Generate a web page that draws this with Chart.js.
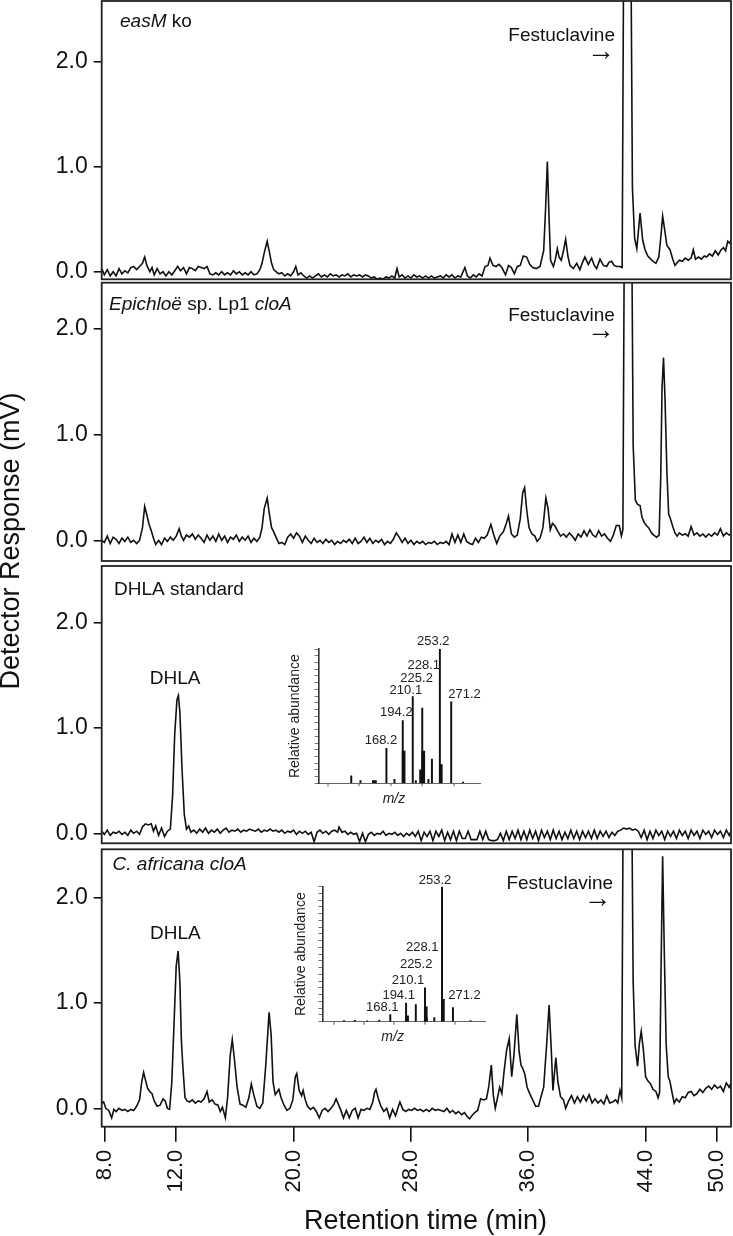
<!DOCTYPE html>
<html>
<head>
<meta charset="utf-8">
<script src="https://cdn.jsdelivr.net/npm/chart.js@4.4.1/dist/chart.umd.min.js"></script>
<style>
  body { margin: 0; background: #fff; }
  #wrap { position: relative; width: 733px; height: 1236px; overflow: hidden; background: #fff;
          font-family: "Liberation Sans", Arial, sans-serif; color: #111; }
  canvas { position: absolute; }
  .axt { position: absolute; font-size: 27px; line-height: 30px; text-align: center; white-space: nowrap; }
  #ytitle { left: -150px; top: 525.5px; width: 320px; transform: rotate(-90deg); }
  #xtitle { left: 225.5px; top: 1205px; width: 400px; }
</style>
</head>
<body>
<div id="wrap">
  <canvas id="p1" width="733" height="281" style="left:0;top:0"></canvas>
  <canvas id="p2" width="733" height="282" style="left:0;top:281px"></canvas>
  <canvas id="p3" width="733" height="282" style="left:0;top:563px"></canvas>
  <canvas id="p4" width="733" height="391" style="left:0;top:845px"></canvas>
  <canvas id="ms3" width="210" height="180" style="left:280px;top:630px"></canvas>
  <canvas id="ms4" width="210" height="190" style="left:285px;top:865px"></canvas>
  <div class="axt" id="ytitle">Detector Response (mV)</div>
  <div class="axt" id="xtitle">Retention time (min)</div>
</div>
<script>
// retention axis: tick positions (min) and the labels printed under them
var retentionTicks = [7.15, 12, 20, 28, 36, 44, 48.86];
var retentionLabels = ["8.0", "12.0", "20.0", "28.0", "36.0", "44.0", "50.0"];
var responseTicks = [0, 1, 2];

// chromatograms, [retention time (min), response (mV)]
var easmKo = [
  [6.92,0.03],[7.1,-0.03],[7.3,0.02],[7.5,-0.04],[7.7,0.00],[7.9,-0.04],[8.1,0.03],[8.3,-0.02],[8.5,0.01],[8.7,-0.01],
  [8.9,0.04],[9.1,0.05],[9.3,0.02],[9.5,0.05],[9.7,0.08],[9.85,0.14],[10.0,0.06],[10.2,0.00],[10.35,0.04],[10.5,-0.03],
  [10.7,0.03],[10.9,-0.02],[11.1,0.00],[11.3,-0.04],[11.5,0.00],[11.7,-0.03],[11.9,0.01],[12.1,0.05],[12.3,0.01],[12.5,0.04],
  [12.7,-0.02],[12.9,0.04],[13.1,0.03],[13.3,0.01],[13.5,0.05],[13.7,0.04],[13.9,0.03],[14.1,0.05],[14.3,-0.02],[14.5,-0.03],
  [14.7,-0.01],[14.9,-0.03],[15.1,0.00],[15.3,-0.03],[15.5,-0.01],[15.7,-0.03],[15.9,0.01],[16.1,-0.02],[16.3,0.00],[16.5,-0.03],
  [16.7,-0.01],[16.9,-0.03],[17.1,0.00],[17.3,-0.03],[17.5,-0.02],[17.7,0.02],[17.85,0.08],[18.0,0.18],[18.2,0.29],[18.35,0.19],
  [18.5,0.08],[18.65,0.02],[18.8,0.00],[19.0,-0.02],[19.2,-0.01],[19.4,-0.04],[19.6,-0.02],[19.8,-0.04],[20.0,0.00],[20.15,0.05],
  [20.3,-0.03],[20.5,-0.01],[20.7,-0.04],[20.9,-0.06],[21.1,-0.04],[21.3,-0.06],[21.5,-0.04],[21.7,-0.02],[21.9,-0.05],[22.1,-0.03],
  [22.3,-0.05],[22.5,-0.02],[22.7,-0.04],[22.9,-0.03],[23.1,-0.05],[23.3,-0.03],[23.5,-0.04],[23.7,-0.02],[23.9,-0.05],[24.1,-0.03],
  [24.3,-0.04],[24.5,-0.03],[24.7,-0.05],[24.9,-0.03],[25.1,-0.04],[25.3,-0.06],[25.5,-0.05],[25.7,-0.07],[25.9,-0.06],[26.1,-0.07],
  [26.3,-0.05],[26.5,-0.06],[26.7,-0.04],[26.9,-0.06],[27.05,0.03],[27.2,-0.05],[27.4,-0.03],[27.6,-0.06],[27.8,-0.04],[28.0,-0.06],
  [28.2,-0.03],[28.4,-0.05],[28.6,-0.04],[28.8,-0.06],[29.0,-0.04],[29.2,-0.06],[29.4,-0.04],[29.6,-0.06],[29.8,-0.05],[30.0,-0.04],
  [30.2,-0.06],[30.4,-0.03],[30.6,-0.05],[30.8,-0.03],[31.0,-0.06],[31.2,-0.04],[31.4,-0.05],[31.68,0.04],[31.85,-0.04],[32.05,-0.06],
  [32.25,-0.03],[32.45,-0.05],[32.65,-0.02],[32.85,-0.04],[33.05,0.05],[33.25,0.06],[33.39,0.13],[33.6,0.06],[33.8,0.05],[34.0,0.07],
  [34.2,0.04],[34.45,-0.03],[34.65,0.06],[34.85,0.04],[35.05,-0.02],[35.25,0.05],[35.45,0.06],[35.66,0.15],[35.89,0.14],[36.1,0.07],
  [36.3,0.04],[36.55,0.03],[36.8,0.05],[37.05,0.20],[37.18,0.60],[37.3,1.05],[37.42,0.50],[37.52,0.11],[37.71,0.05],[37.85,0.12],
  [37.98,0.22],[38.1,0.14],[38.25,0.11],[38.4,0.20],[38.55,0.31],[38.7,0.15],[38.84,0.06],[39.07,0.03],[39.3,0.08],[39.52,0.02],
  [39.7,0.09],[39.86,0.14],[40.09,0.07],[40.32,0.13],[40.5,0.06],[40.66,0.03],[40.89,0.12],[41.12,0.06],[41.34,0.05],[41.5,0.09],
  [41.68,0.10],[41.85,0.06],[42.02,0.05],[42.25,0.05],[42.4,0.04],[42.5,3.0],[42.75,7.0],[43.0,3.0],[43.1,0.8],[43.25,0.32],
  [43.4,0.22],[43.62,0.56],[43.8,0.30],[43.96,0.21],[44.15,0.15],[44.35,0.12],[44.5,0.10],[44.7,0.08],[44.9,0.14],[45.05,0.35],
  [45.16,0.53],[45.3,0.40],[45.45,0.25],[45.66,0.21],[45.85,0.12],[46.0,0.06],[46.12,0.08],[46.3,0.11],[46.5,0.10],[46.7,0.13],
  [46.9,0.11],[47.1,0.13],[47.25,0.21],[47.4,0.12],[47.6,0.14],[47.8,0.12],[48.0,0.15],[48.16,0.14],[48.35,0.17],[48.55,0.15],
  [48.75,0.20],[48.95,0.16],[49.15,0.21],[49.3,0.23],[49.45,0.20],[49.6,0.29],[49.75,0.27],[49.82,0.30]
];

var epichloeCloA = [
  [6.92,0.00],[7.1,-0.02],[7.3,0.04],[7.5,-0.03],[7.7,0.03],[7.9,0.01],[8.1,-0.03],[8.3,0.02],[8.5,-0.01],[8.7,0.03],
  [8.9,-0.02],[9.1,0.00],[9.3,-0.03],[9.5,0.00],[9.7,0.12],[9.85,0.32],[10.0,0.24],[10.15,0.15],[10.3,0.09],[10.45,0.02],
  [10.6,-0.04],[10.8,0.00],[11.0,-0.04],[11.2,0.02],[11.4,-0.01],[11.6,0.03],[11.8,0.00],[12.0,0.04],[12.2,0.11],[12.35,0.04],
  [12.5,0.00],[12.7,0.05],[12.9,0.03],[13.1,0.06],[13.3,0.01],[13.5,0.05],[13.7,0.02],[13.9,-0.02],[14.1,0.05],[14.3,0.00],
  [14.5,0.04],[14.7,-0.01],[14.9,0.06],[15.1,0.00],[15.3,0.04],[15.5,-0.02],[15.7,0.03],[15.9,0.01],[16.1,0.05],[16.3,-0.01],
  [16.5,0.03],[16.7,0.00],[16.9,0.04],[17.1,-0.02],[17.3,0.02],[17.5,-0.01],[17.7,0.03],[17.85,0.12],[18.0,0.30],[18.2,0.40],
  [18.35,0.25],[18.5,0.12],[18.65,0.08],[18.8,0.03],[19.0,-0.03],[19.2,-0.02],[19.4,-0.04],[19.6,0.03],[19.8,0.06],[20.0,0.02],
  [20.2,0.07],[20.4,0.04],[20.6,-0.02],[20.8,0.04],[21.0,0.00],[21.2,-0.03],[21.4,0.02],[21.6,-0.02],[21.8,0.00],[22.0,-0.03],
  [22.2,0.01],[22.4,-0.02],[22.6,0.00],[22.8,-0.04],[23.0,-0.01],[23.2,-0.03],[23.4,0.00],[23.6,-0.02],[23.8,0.01],[24.0,-0.03],
  [24.2,0.02],[24.4,-0.03],[24.6,-0.01],[24.8,0.03],[25.0,-0.02],[25.2,0.02],[25.4,-0.03],[25.6,0.00],[25.8,-0.02],[26.0,0.01],
  [26.2,-0.04],[26.4,-0.01],[26.6,-0.03],[26.8,0.01],[27.0,0.07],[27.2,0.03],[27.4,-0.02],[27.6,0.02],[27.8,-0.03],[28.0,0.00],
  [28.2,-0.04],[28.4,-0.01],[28.6,-0.03],[28.8,-0.01],[29.0,-0.04],[29.2,-0.02],[29.4,-0.03],[29.6,-0.01],[29.8,-0.04],[30.0,-0.02],
  [30.2,-0.03],[30.4,-0.01],[30.6,-0.04],[30.8,0.06],[31.0,-0.02],[31.2,0.05],[31.4,-0.02],[31.6,0.06],[31.8,-0.01],[32.0,-0.03],
  [32.2,-0.04],[32.4,0.02],[32.6,-0.02],[32.8,0.03],[33.0,0.02],[33.2,0.05],[33.45,0.15],[33.65,0.05],[33.85,-0.03],[34.05,0.04],
  [34.3,0.08],[34.5,0.16],[34.65,0.23],[34.85,0.06],[35.05,0.03],[35.25,0.05],[35.45,0.20],[35.62,0.45],[35.75,0.50],[35.9,0.28],
  [36.05,0.12],[36.25,0.06],[36.45,0.04],[36.6,-0.01],[36.8,0.02],[37.0,0.12],[37.2,0.40],[37.35,0.30],[37.5,0.10],[37.65,0.16],
  [37.8,0.14],[38.0,0.09],[38.2,0.04],[38.4,0.06],[38.6,0.03],[38.8,0.07],[39.0,0.04],[39.2,0.00],[39.4,0.06],[39.6,0.03],
  [39.8,0.09],[40.0,0.04],[40.2,0.10],[40.4,0.05],[40.6,0.03],[40.8,0.09],[41.0,0.04],[41.2,0.06],[41.4,0.02],[41.6,-0.01],
  [41.8,0.05],[42.0,0.14],[42.2,0.14],[42.35,0.04],[42.45,0.10],[42.55,3.0],[42.8,7.0],[43.05,3.0],[43.15,0.9],[43.3,0.38],
  [43.45,0.34],[43.62,0.33],[43.75,0.22],[43.9,0.17],[44.05,0.14],[44.2,0.12],[44.4,0.07],[44.55,0.05],[44.75,0.03],[44.92,0.05],
  [45.03,0.6],[45.12,1.45],[45.22,1.73],[45.32,1.35],[45.45,0.65],[45.57,0.25],[45.7,0.20],[45.85,0.13],[46.0,0.07],[46.15,0.04],
  [46.3,0.07],[46.5,0.05],[46.7,0.06],[46.9,0.04],[47.1,0.13],[47.3,0.05],[47.5,0.07],[47.7,0.04],[47.9,0.06],[48.1,0.03],
  [48.3,0.06],[48.5,0.04],[48.7,0.07],[48.9,0.05],[49.1,0.11],[49.3,0.04],[49.5,0.07],[49.7,0.05],[49.82,0.06]
];

var dhlaStandard = [
  [6.92,0.02],[7.1,-0.01],[7.3,0.03],[7.5,-0.02],[7.7,0.01],[7.9,0.00],[8.1,0.02],[8.3,-0.01],[8.5,0.01],[8.7,-0.02],
  [8.9,0.03],[9.1,0.00],[9.3,0.02],[9.5,-0.01],[9.7,0.06],[9.9,0.09],[10.1,0.08],[10.3,0.09],[10.45,0.02],[10.6,0.07],
  [10.8,-0.02],[11.0,0.05],[11.2,-0.03],[11.4,0.02],[11.6,0.04],[11.75,0.35],[11.9,0.95],[12.05,1.27],[12.15,1.31],[12.25,1.15],
  [12.4,0.60],[12.55,0.18],[12.7,0.04],[12.85,0.07],[13.0,0.01],[13.2,0.03],[13.4,0.00],[13.6,0.04],[13.8,0.01],[14.0,0.05],
  [14.2,0.00],[14.4,0.03],[14.6,0.01],[14.8,0.04],[15.0,0.00],[15.2,0.03],[15.4,0.05],[15.6,0.01],[15.8,0.03],[16.0,0.02],
  [16.2,0.04],[16.4,0.01],[16.6,0.03],[16.8,0.02],[17.0,0.04],[17.2,0.03],[17.4,0.02],[17.6,0.04],[17.8,0.01],[18.0,0.03],
  [18.2,0.02],[18.4,0.04],[18.6,0.02],[18.8,0.03],[19.0,0.01],[19.2,0.03],[19.4,0.00],[19.6,0.02],[19.8,0.01],[20.0,0.03],
  [20.2,-0.01],[20.4,0.02],[20.6,0.00],[20.8,0.02],[21.0,-0.01],[21.2,0.01],[21.4,-0.08],[21.6,0.01],[21.8,0.03],[22.0,0.00],
  [22.2,0.02],[22.4,-0.01],[22.6,0.02],[22.8,0.03],[23.0,0.01],[23.1,0.06],[23.3,0.01],[23.5,0.02],[23.7,-0.01],[23.9,0.01],
  [24.1,-0.01],[24.3,0.00],[24.5,-0.08],[24.7,0.00],[24.9,-0.08],[25.1,-0.01],[25.3,0.01],[25.5,-0.02],[25.7,0.00],[25.9,-0.01],
  [26.1,0.02],[26.3,-0.02],[26.5,0.00],[26.7,-0.01],[26.9,0.01],[27.1,-0.02],[27.3,0.00],[27.5,-0.03],[27.7,0.00],[27.9,-0.02],
  [28.1,0.01],[28.3,-0.03],[28.5,0.02],[28.7,-0.07],[28.9,0.01],[29.1,-0.03],[29.3,0.02],[29.5,-0.07],[29.7,0.02],[29.9,-0.03],
  [30.1,0.03],[30.3,-0.07],[30.5,0.01],[30.7,-0.06],[30.9,0.02],[31.1,-0.07],[31.3,0.02],[31.5,-0.05],[31.7,-0.05],[31.9,0.02],
  [32.1,-0.06],[32.3,-0.06],[32.5,-0.06],[32.7,0.02],[32.9,-0.06],[33.1,0.02],[33.3,-0.06],[33.5,-0.07],[33.7,-0.07],[33.9,-0.06],
  [34.1,0.00],[34.3,-0.07],[34.5,0.02],[34.7,-0.06],[34.9,0.02],[35.1,-0.05],[35.3,0.03],[35.5,-0.06],[35.7,0.02],[35.9,-0.06],
  [36.1,0.03],[36.3,-0.05],[36.5,0.02],[36.7,-0.07],[36.9,0.03],[37.1,-0.04],[37.3,0.02],[37.5,-0.06],[37.7,0.03],[37.9,-0.05],
  [38.1,0.02],[38.3,-0.06],[38.5,0.01],[38.7,-0.05],[38.9,0.03],[39.1,-0.05],[39.3,0.02],[39.5,-0.06],[39.7,0.02],[39.9,-0.04],
  [40.1,0.02],[40.3,-0.05],[40.5,0.03],[40.7,-0.05],[40.9,0.02],[41.1,-0.03],[41.3,0.02],[41.5,-0.04],[41.7,0.01],[41.9,-0.02],
  [42.1,0.02],[42.3,0.03],[42.5,0.05],[42.7,0.04],[42.9,0.05],[43.1,0.03],[43.3,0.04],[43.5,0.02],[43.7,-0.04],[43.9,0.03],
  [44.1,-0.06],[44.3,0.02],[44.5,-0.05],[44.7,0.03],[44.9,-0.02],[45.1,0.02],[45.3,-0.06],[45.5,0.02],[45.7,-0.03],[45.9,0.02],
  [46.1,-0.05],[46.3,0.03],[46.5,-0.02],[46.7,0.02],[46.9,-0.05],[47.1,0.03],[47.3,-0.02],[47.5,0.02],[47.7,-0.05],[47.9,0.03],
  [48.1,-0.01],[48.3,0.02],[48.5,-0.04],[48.7,0.03],[48.9,-0.01],[49.1,0.02],[49.3,-0.04],[49.5,0.03],[49.7,-0.02],[49.82,0.02]
];

var africanaCloA = [
  [6.92,0.05],[7.05,0.06],[7.2,0.00],[7.4,-0.02],[7.6,-0.09],[7.75,-0.01],[7.9,-0.03],[8.1,0.00],[8.3,-0.02],[8.5,-0.01],
  [8.7,-0.03],[8.9,-0.01],[9.1,-0.02],[9.3,0.02],[9.5,0.08],[9.65,0.25],[9.78,0.34],[9.9,0.27],[10.05,0.19],[10.2,0.16],
  [10.35,0.14],[10.5,0.07],[10.7,0.02],[10.9,0.03],[11.1,0.09],[11.25,0.07],[11.4,0.00],[11.55,-0.01],[11.7,0.25],[11.85,0.80],
  [12.0,1.35],[12.13,1.49],[12.25,1.20],[12.35,0.65],[12.45,0.40],[12.6,0.10],[12.75,0.07],[12.9,0.06],[13.1,0.08],[13.3,0.05],
  [13.5,0.07],[13.7,0.06],[13.9,0.09],[14.1,0.16],[14.25,0.06],[14.45,0.08],[14.65,0.04],[14.85,0.03],[15.0,-0.03],[15.15,0.01],
  [15.35,-0.09],[15.5,0.10],[15.68,0.50],[15.82,0.65],[15.98,0.45],[16.15,0.20],[16.35,0.04],[16.55,0.03],[16.75,0.01],[16.95,0.10],
  [17.12,0.23],[17.3,0.12],[17.5,0.02],[17.7,0.00],[17.9,0.05],[18.1,0.40],[18.33,0.91],[18.47,0.70],[18.6,0.25],[18.75,0.13],
  [18.9,0.16],[19.0,0.18],[19.15,0.10],[19.35,0.03],[19.55,-0.02],[19.75,0.00],[19.95,0.08],[20.12,0.30],[20.22,0.33],[20.38,0.17],
  [20.55,0.12],[20.65,0.17],[20.8,0.08],[20.95,0.02],[21.15,-0.01],[21.35,0.01],[21.55,-0.03],[21.75,-0.09],[21.95,-0.02],[22.15,0.00],
  [22.35,-0.03],[22.55,0.00],[22.75,0.04],[22.9,0.09],[23.05,0.04],[23.2,-0.01],[23.4,-0.09],[23.6,-0.02],[23.8,-0.09],[24.0,-0.02],
  [24.2,0.00],[24.4,-0.09],[24.6,-0.01],[24.8,-0.02],[25.0,0.00],[25.2,-0.01],[25.4,0.06],[25.52,0.15],[25.62,0.18],[25.76,0.10],
  [25.95,0.02],[26.15,-0.03],[26.35,0.00],[26.55,-0.09],[26.75,-0.01],[26.95,-0.07],[27.15,0.02],[27.25,0.06],[27.45,-0.01],[27.65,-0.03],
  [27.85,-0.01],[28.05,-0.02],[28.25,0.00],[28.45,-0.02],[28.65,-0.01],[28.85,-0.03],[29.05,-0.01],[29.25,-0.03],[29.45,0.00],[29.65,-0.02],
  [29.85,-0.01],[30.05,-0.02],[30.25,-0.03],[30.45,0.00],[30.65,-0.04],[30.85,-0.02],[31.05,-0.05],[31.25,-0.03],[31.45,-0.06],[31.65,-0.04],
  [31.85,-0.08],[32.0,-0.10],[32.15,-0.07],[32.35,-0.04],[32.55,-0.02],[32.75,0.09],[32.95,0.08],[33.15,0.09],[33.3,0.20],[33.48,0.41],
  [33.62,0.12],[33.75,0.00],[33.9,0.10],[34.05,0.20],[34.2,0.14],[34.35,0.35],[34.52,0.55],[34.7,0.66],[34.87,0.30],[35.02,0.50],
  [35.22,0.89],[35.37,0.55],[35.5,0.41],[35.62,0.38],[35.77,0.32],[35.92,0.20],[36.1,0.14],[36.3,0.08],[36.5,0.02],[36.7,0.02],
  [36.85,0.10],[37.05,0.20],[37.25,0.60],[37.42,0.98],[37.57,0.55],[37.68,0.17],[37.88,0.48],[38.02,0.25],[38.2,0.11],[38.4,0.08],
  [38.55,0.00],[38.75,0.07],[38.95,0.12],[39.15,0.05],[39.35,0.11],[39.55,0.06],[39.75,0.12],[39.95,0.07],[40.15,0.13],[40.35,0.05],
  [40.55,0.09],[40.75,0.05],[40.95,0.08],[41.15,0.04],[41.35,0.12],[41.55,0.05],[41.75,0.06],[41.95,0.08],[42.1,0.05],[42.25,0.17],
  [42.37,0.10],[42.47,3.0],[42.75,7.0],[43.05,3.0],[43.15,1.2],[43.28,0.6],[43.45,0.40],[43.58,0.62],[43.7,0.73],[43.85,0.55],
  [44.0,0.30],[44.15,0.26],[44.35,0.23],[44.5,0.18],[44.7,0.16],[44.85,0.10],[44.95,0.15],[45.05,1.3],[45.16,2.39],[45.27,1.5],
  [45.4,0.60],[45.54,0.30],[45.65,0.26],[45.8,0.15],[45.95,0.05],[46.1,0.09],[46.3,0.06],[46.5,0.11],[46.7,0.10],[46.9,0.15],
  [47.1,0.16],[47.3,0.12],[47.5,0.14],[47.7,0.18],[47.9,0.15],[48.1,0.19],[48.3,0.21],[48.5,0.18],[48.7,0.22],[48.9,0.19],
  [49.1,0.21],[49.3,0.16],[49.5,0.24],[49.7,0.20],[49.82,0.24]
];

// mass spectra of the DHLA peak: m/z and relative abundance (%)
var stdIonMz = [112.3, 127, 147, 168.2, 181, 194.2, 210.1, 215, 225.2, 235, 240.6, 253.2, 271.2, 290];
var stdIonAbund = [5.5, 2, 2, 26, 3, 46.7, 64.6, 2, 56, 3, 18, 100, 60.7, 1];
var stdClusterMz = [150, 195.6, 223.3, 226.8, 254.7];
var stdClusterAbund = [2, 24, 10, 24, 14];
var stdIonLabels = ["168.2", "194.2", "210.1", "225.2", "228.1", "253.2", "271.2"];

var afrIonMz = [92, 110, 130, 150, 168.1, 194.1, 210.1, 225.2, 228.1, 240.5, 253.2, 271.2, 300];
var afrIonAbund = [0.8, 1, 0.7, 1.2, 5.2, 13.8, 12.6, 25, 3, 3, 100, 10.4, 0.8];
var afrClusterMz = [195.8, 226.5, 254.7];
var afrClusterAbund = [4.4, 11, 16.5];
var afrIonLabels = ["168.1", "194.1", "210.1", "225.2", "228.1", "253.2", "271.2"];

var FONT = "'Liberation Sans', Arial, sans-serif";
var INK = "#111";

// label placement inside the panels, in axis units
var panelNotes = {
  p1: [
    { t: 8.17, v: 2.381, align: "left", parts: [["easM", true], [" ko", false]] },
    { t: 41.91, v: 2.248, align: "right", parts: [["Festuclavine", false]] },
    { t: 41.91, v: 2.095, align: "right", size: 28, parts: [["\u2192", false]] }
  ],
  p2: [
    { t: 7.42, v: 2.23, align: "left", parts: [["Epichlo\u00eb", true], [" sp. Lp1 ", false], ["cloA", true]] },
    { t: 41.9, v: 2.129, align: "right", parts: [["Festuclavine", false]] },
    { t: 41.9, v: 1.977, align: "right", size: 28, parts: [["\u2192", false]] }
  ],
  p3: [
    { t: 7.76, v: 2.317, align: "left", parts: [["DHLA standard", false]] },
    { t: 11.92, v: 1.472, align: "center", parts: [["DHLA", false]] }
  ],
  p4: [
    { t: 7.66, v: 2.306, align: "left", parts: [["C. africana cloA", true]] },
    { t: 11.94, v: 1.659, align: "center", parts: [["DHLA", false]] },
    { t: 41.78, v: 2.133, align: "right", parts: [["Festuclavine", false]] },
    { t: 41.68, v: 1.984, align: "right", size: 28, parts: [["\u2192", false]] }
  ]
};

var stdLabelAt = [[159.5, 32.2], [184, 52.6], [199.1, 69.5], [216.2, 78.2], [227.5, 87.9], [242.7, 105.4], [292.3, 66.3]];
var afrLabelAt = [[155, 10.7], [181.9, 19.8], [197.2, 30.9], [210.7, 42.7], [220.6, 54.8], [241.6, 105], [290.1, 19.8]];

var panelBox = {
  id: "panelBox",
  afterDraw: function (chart, args, opts) {
    var ctx = chart.ctx, a = chart.chartArea;
    var xs = chart.scales.x, ys = chart.scales.y;
    ctx.save();
    ctx.strokeStyle = "#222";
    ctx.lineWidth = 1.8;
    ctx.strokeRect(a.left, a.top, a.right - a.left, a.bottom - a.top);
    ctx.fillStyle = INK;
    ctx.textBaseline = "middle";
    ctx.textAlign = "left";
    (opts.notes || []).forEach(function (n) {
      var size = n.size || 19;
      var w = 0;
      n.parts.forEach(function (p) {
        ctx.font = (p[1] ? "italic " : "") + size + "px " + FONT;
        w += ctx.measureText(p[0]).width;
      });
      var x = xs.getPixelForValue(n.t), y = ys.getPixelForValue(n.v);
      if (n.align === "right") x -= w;
      if (n.align === "center") x -= w / 2;
      n.parts.forEach(function (p) {
        ctx.font = (p[1] ? "italic " : "") + size + "px " + FONT;
        ctx.fillText(p[0], x, y);
        x += ctx.measureText(p[0]).width;
      });
    });
    ctx.restore();
  }
};

// keep Chart.js from insetting the plot area for edge tick labels
function noEdgePad(ax) {
  ax.paddingTop = 0;
  ax.paddingBottom = 0;
  ax.paddingLeft = 0;
  ax.paddingRight = 0;
}

function toPoints(rows) {
  return rows.map(function (r) { return { x: r[0], y: r[1] }; });
}

function makePanel(id, rows, yMin, yMax, pad, isBottom) {
  var xScale = {
    type: "linear", min: 6.92, max: 49.82, display: false
  };
  if (isBottom) {
    xScale = {
      type: "linear", min: 6.92, max: 49.82, display: true,
      afterBuildTicks: function (ax) { ax.ticks = retentionTicks.map(function (v) { return { value: v }; }); },
      afterFit: function (ax) { ax.height = 109.3; noEdgePad(ax); },
      border: { display: false },
      grid: { drawOnChartArea: false, drawTicks: true, tickLength: 15, tickColor: INK, lineWidth: 1.6 },
      ticks: {
        autoSkip: false, maxRotation: 90, minRotation: 90, padding: 8, color: INK,
        font: { family: FONT, size: 22 },
        callback: function (v, i) { return retentionLabels[i]; }
      }
    };
  }
  return new Chart(document.getElementById(id), {
    type: "line",
    data: {
      datasets: [{
        data: toPoints(rows),
        borderColor: INK,
        borderWidth: 1.6,
        pointRadius: 0,
        tension: 0,
        fill: false
      }]
    },
    options: {
      responsive: false,
      animation: false,
      devicePixelRatio: 1,
      layout: { padding: pad },
      plugins: { legend: { display: false }, tooltip: { enabled: false }, panelBox: { notes: panelNotes[id] } },
      scales: {
        x: xScale,
        y: {
          type: "linear", min: yMin, max: yMax,
          afterBuildTicks: function (ax) { ax.ticks = responseTicks.map(function (v) { return { value: v }; }); },
          afterFit: function (ax) { ax.width = 101.7; noEdgePad(ax); },
          border: { display: false },
          grid: { drawOnChartArea: false, drawTicks: true, tickLength: 8, tickColor: INK, lineWidth: 1.6 },
          ticks: {
            padding: 6, color: INK, font: { family: FONT, size: 23 },
            callback: function (v) { return v.toFixed(1); }
          }
        }
      }
    },
    plugins: [panelBox]
  });
}

makePanel("p1", easmKo, -0.072, 2.58, { top: 1, right: 2, bottom: 1.7, left: 0 }, false);
makePanel("p2", epichloeCloA, -0.196, 2.44, { top: 1.7, right: 2, bottom: 2, left: 0 }, false);
makePanel("p3", dhlaStandard, -0.095, 2.54, { top: 3, right: 2, bottom: 1.7, left: 0 }, false);
makePanel("p4", africanaCloA, -0.174, 2.455, { top: 4.3, right: 2, bottom: 0, left: 0 }, true);

var specLabels = {
  id: "specLabels",
  afterDraw: function (chart, args, opts) {
    var ctx = chart.ctx, xs = chart.scales.x, ys = chart.scales.y;
    ctx.save();
    ctx.fillStyle = "#222";
    ctx.textAlign = "center";
    ctx.textBaseline = "middle";
    ctx.font = "13px " + FONT;
    opts.labels.forEach(function (txt, i) {
      ctx.fillText(txt, xs.getPixelForValue(opts.at[i][0]), ys.getPixelForValue(opts.at[i][1]));
    });
    ctx.font = "italic 14px " + FONT;
    ctx.fillText("m/z", xs.getPixelForValue(opts.mzAt[0]), ys.getPixelForValue(opts.mzAt[1]));
    ctx.restore();
  }
};

function pairs(xs, ys) {
  return xs.map(function (x, i) { return { x: x, y: ys[i] }; });
}

function makeSpectrum(id, mz, ab, cmz, cab, xMin, xMax, pad, yW, xH, titlePad, labels, at, mzAt) {
  return new Chart(document.getElementById(id), {
    type: "bar",
    data: {
      datasets: [
        { data: pairs(mz, ab), backgroundColor: "#111", barThickness: 1.3, grouped: false },
        { data: pairs(cmz, cab), backgroundColor: "#111", barThickness: 3, grouped: false }
      ]
    },
    options: {
      responsive: false,
      animation: false,
      devicePixelRatio: 1,
      layout: { padding: pad },
      plugins: { legend: { display: false }, tooltip: { enabled: false },
                 specLabels: { labels: labels, at: at, mzAt: mzAt } },
      scales: {
        x: {
          type: "linear", min: xMin, max: xMax, offset: false,
          afterBuildTicks: function (ax) { ax.ticks = [100, 150, 200, 250, 300].map(function (v) { return { value: v }; }); },
          afterFit: function (ax) { ax.height = xH; noEdgePad(ax); },
          border: { display: true, color: "#666", width: 1, dash: [3, 2] },
          grid: { drawOnChartArea: false, drawTicks: true, tickLength: 3, tickColor: "#aaa", lineWidth: 2 },
          ticks: { display: false }
        },
        y: {
          type: "linear", min: 0, max: 100,
          afterBuildTicks: function (ax) {
            var t = [];
            for (var v = 0; v <= 100; v += 5) t.push({ value: v });
            ax.ticks = t;
          },
          afterFit: function (ax) { ax.width = yW; noEdgePad(ax); },
          border: { display: true, color: "#333", width: 1.6 },
          grid: { drawOnChartArea: false, drawTicks: true, tickLength: 4, tickColor: "#777", lineWidth: 1 },
          ticks: { display: false },
          title: { display: true, text: "Relative abundance", color: "#222",
                   font: { family: FONT, size: 14 }, padding: { top: titlePad, bottom: 0 } }
        }
      }
    },
    plugins: [specLabels]
  });
}

makeSpectrum("ms3", stdIonMz, stdIonAbund, stdClusterMz, stdClusterAbund, 60.4, 317,
  { top: 19, right: 10, bottom: 0, left: 0 }, 38.6, 26.7, 6.6, stdIonLabels, stdLabelAt, [180.2, -11.9]);
makeSpectrum("ms4", afrIonMz, afrIonAbund, afrClusterMz, afrClusterAbund, 56.3, 323.9,
  { top: 21.7, right: 10, bottom: 0, left: 0 }, 37.3, 33.3, 7.3, afrIonLabels, afrLabelAt, [172, -11.1]);
</script>
</body>
</html>
